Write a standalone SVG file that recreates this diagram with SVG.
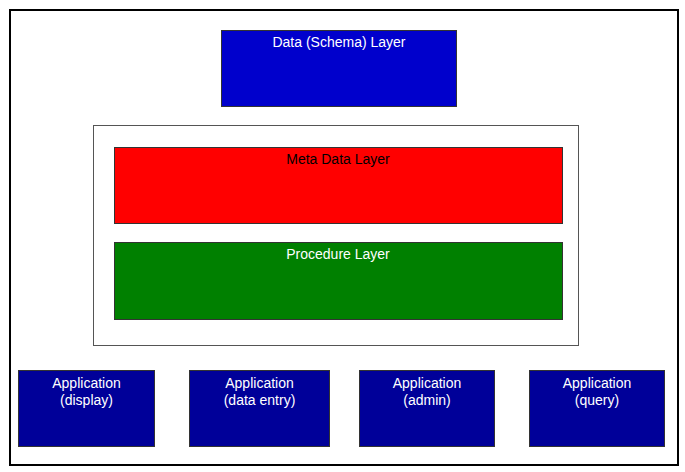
<svg xmlns="http://www.w3.org/2000/svg" width="685" height="472" viewBox="0 0 685 472">
<style>
text{font-family:"Liberation Sans",Arial,sans-serif;font-size:14px;text-anchor:middle}
.w{fill:#ffffff}
.k{fill:#000000}
.app{fill:#000099;stroke:#333333;stroke-width:1}
</style>
<rect width="685" height="472" fill="#ffffff"/>
<rect id="frame" x="10" y="10" width="668" height="455" fill="none" stroke="#000" stroke-width="2"/>
<g id="data-layer">
<rect x="221.5" y="30.5" width="235" height="76" fill="#0000cc" stroke="#333" stroke-width="1"/>
<text class="w" x="339" y="47">Data (Schema) Layer</text>
</g>
<g id="container">
<rect x="93.5" y="125.5" width="485" height="220" fill="#fff" stroke="#555" stroke-width="1"/>
</g>
<g id="meta-layer">
<rect x="114.5" y="147.5" width="448" height="76" fill="#ff0000" stroke="#333" stroke-width="1"/>
<text class="k" x="338" y="164">Meta Data Layer</text>
</g>
<g id="procedure-layer">
<rect x="114.5" y="242.5" width="448" height="77" fill="#008000" stroke="#333" stroke-width="1"/>
<text class="w" x="338" y="259">Procedure Layer</text>
</g>
<g id="app-display">
<rect class="app" x="18.5" y="370.5" width="136" height="76"/>
<text class="w" x="86.5" y="388">Application</text>
<text class="w" x="86.5" y="405">(display)</text>
</g>
<g id="app-entry">
<rect class="app" x="189.5" y="370.5" width="140" height="76"/>
<text class="w" x="259.5" y="388">Application</text>
<text class="w" x="259.5" y="405">(data entry)</text>
</g>
<g id="app-admin">
<rect class="app" x="359.5" y="370.5" width="135" height="76"/>
<text class="w" x="427" y="388">Application</text>
<text class="w" x="427" y="405">(admin)</text>
</g>
<g id="app-query">
<rect class="app" x="529.5" y="370.5" width="135" height="76"/>
<text class="w" x="597" y="388">Application</text>
<text class="w" x="597" y="405">(query)</text>
</g>
<g id="connectors"></g>
</svg>
